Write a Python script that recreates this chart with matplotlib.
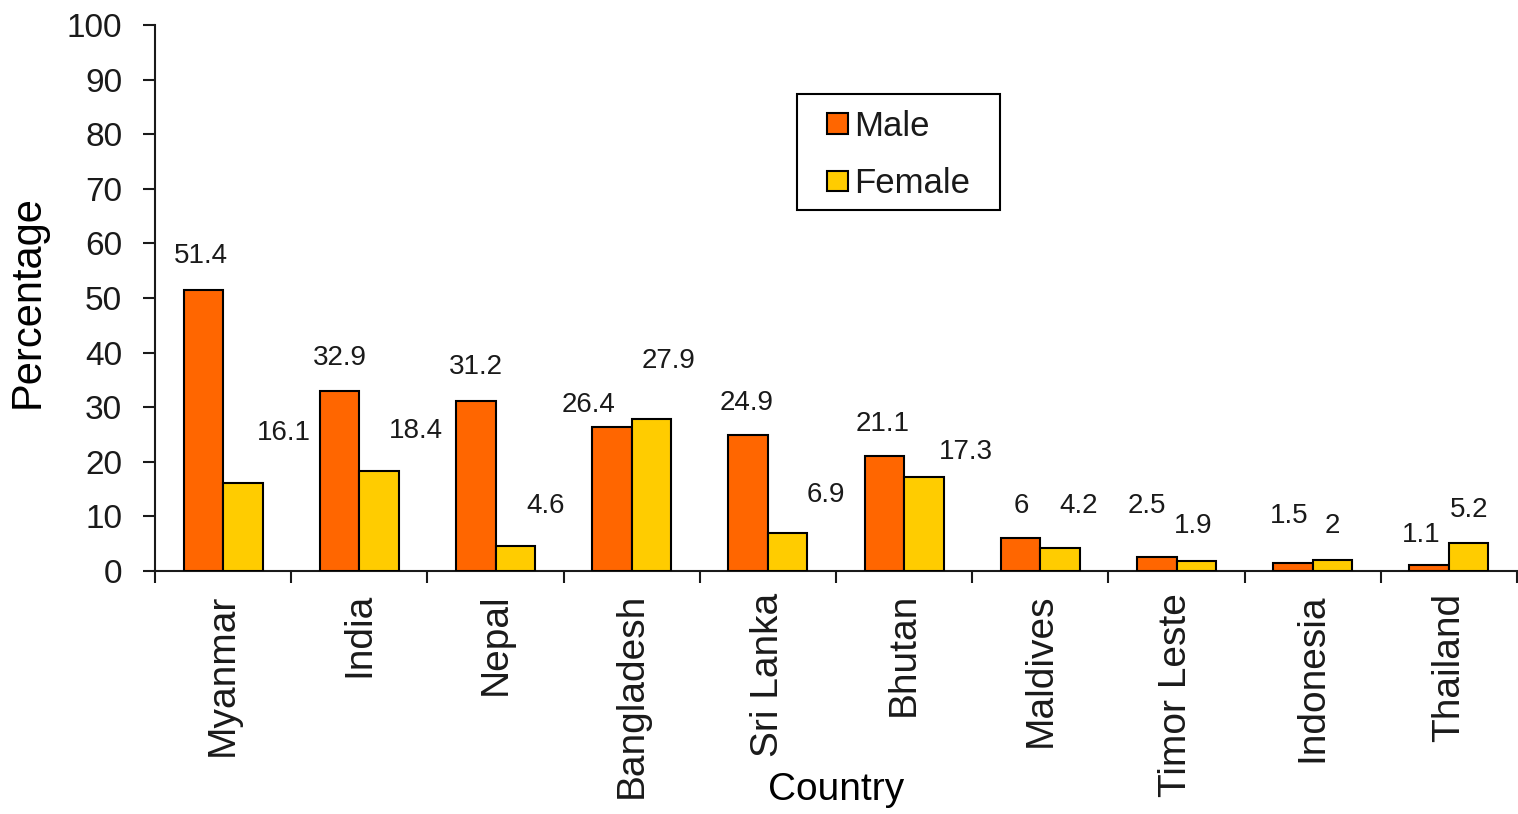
import matplotlib

matplotlib.use("Agg")
import matplotlib.pyplot as plt  # noqa: E402
from matplotlib.patches import Rectangle  # noqa: E402
import numpy as np  # noqa: E402

COUNTRIES = ["Myanmar", "India", "Nepal", "Bangladesh", "Sri Lanka",
             "Bhutan", "Maldives", "Timor Leste", "Indonesia", "Thailand"]
MALE = [51.4, 32.9, 31.2, 26.4, 24.9, 21.1, 6, 2.5, 1.5, 1.1]
FEMALE = [16.1, 18.4, 4.6, 27.9, 6.9, 17.3, 4.2, 1.9, 2, 5.2]
Y_TICKS = list(range(0, 101, 10))

# value labels were nudged by hand; (dx, dy) in pixels from the bar top
MALE_LABEL_OFF = [(-2, 27), (0, 26), (0, 27), (-23, 15), (-2, 25),
                  (-2, 25), (1, 25), (-10, 44), (-4, 40), (-8, 23)]
FEMALE_LABEL_OFF = [(41, 43), (37, 33), (30, 33), (17, 51), (38, 31),
                    (42, 18), (19, 35), (-3, 28), (0, 27), (0, 26)]

MALE_COLOR = "#FF6600"
FEMALE_COLOR = "#FFCC00"
INK = "#1a1a1a"

plt.rcParams.update({
    "font.family": ["Liberation Sans", "DejaVu Sans"],
    "text.color": INK,
    "axes.edgecolor": INK,
    "xtick.color": INK,
    "ytick.color": INK,
})

W, H, DPI = 1518, 814, 100
AX_L, AX_R, AX_T, AX_B = 155, 1517, 25, 571
fig = plt.figure(figsize=(W / DPI, H / DPI), dpi=DPI)
ax = fig.add_axes([AX_L / W, 1 - AX_B / H, (AX_R - AX_L) / W,
                   (AX_B - AX_T) / H])


def axes_frac(px, py):
    """Pixel position in the figure -> axes fraction."""
    return (px - AX_L) / (AX_R - AX_L), (AX_B - py) / (AX_B - AX_T)


x = np.arange(len(COUNTRIES))
bw = 0.29
male_bars = ax.bar(x - bw / 2, MALE, bw, color=MALE_COLOR, edgecolor="black",
                   linewidth=1.5, label="Male", zorder=3)
female_bars = ax.bar(x + bw / 2, FEMALE, bw, color=FEMALE_COLOR,
                     edgecolor="black", linewidth=1.5, label="Female",
                     zorder=3)

for bars, vals, offs in ((male_bars, MALE, MALE_LABEL_OFF),
                         (female_bars, FEMALE, FEMALE_LABEL_OFF)):
    for bar, v, (dx, dy) in zip(bars, vals, offs):
        ax.annotate(f"{v:g}", xy=(bar.get_x() + bar.get_width() / 2, v),
                    xytext=(dx, dy), textcoords="offset pixels",
                    ha="center", va="baseline", fontsize=20)

ax.set_xlim(-0.5, len(COUNTRIES) - 0.5)
ax.set_ylim(0, 100)
ax.set_yticks(Y_TICKS)
ax.tick_params(axis="y", direction="out", length=8.6, width=1.5,
               labelsize=24, pad=15)

# category names sit between boundary ticks
ax.set_xticks(x)
ax.set_xticklabels(COUNTRIES, rotation=90, fontsize=28)
ax.tick_params(axis="x", which="major", length=0, pad=16)
ax.set_xticks(np.arange(len(COUNTRIES) + 1) - 0.5, minor=True)
ax.tick_params(axis="x", which="minor", direction="out", length=8.6,
               width=1.5)

for side in ("top", "right"):
    ax.spines[side].set_visible(False)
for side in ("left", "bottom"):
    ax.spines[side].set_linewidth(1.5)

ax.set_ylabel("Percentage", fontsize=30)
ax.yaxis.set_label_coords(*axes_frac(48, 302))
ax.set_xlabel("Country", fontsize=28)
ax.xaxis.set_label_coords(*axes_frac(836, 772))

# legend entries without a frame, boxed by a separate rectangle
ax.legend(loc="upper left", bbox_to_anchor=axes_frac(827, 110),
          fontsize=25, frameon=False, handlelength=0.6, handleheight=0.55,
          handletextpad=0.17, labelspacing=0.7, borderpad=0,
          borderaxespad=0)
bx0, by0 = axes_frac(797, 210)
bx1, by1 = axes_frac(1000, 94)
ax.add_patch(Rectangle((bx0, by0), bx1 - bx0, by1 - by0,
                       transform=ax.transAxes, facecolor="none",
                       edgecolor="black", linewidth=1.5, zorder=5))

fig.savefig("out.png", dpi=DPI)
